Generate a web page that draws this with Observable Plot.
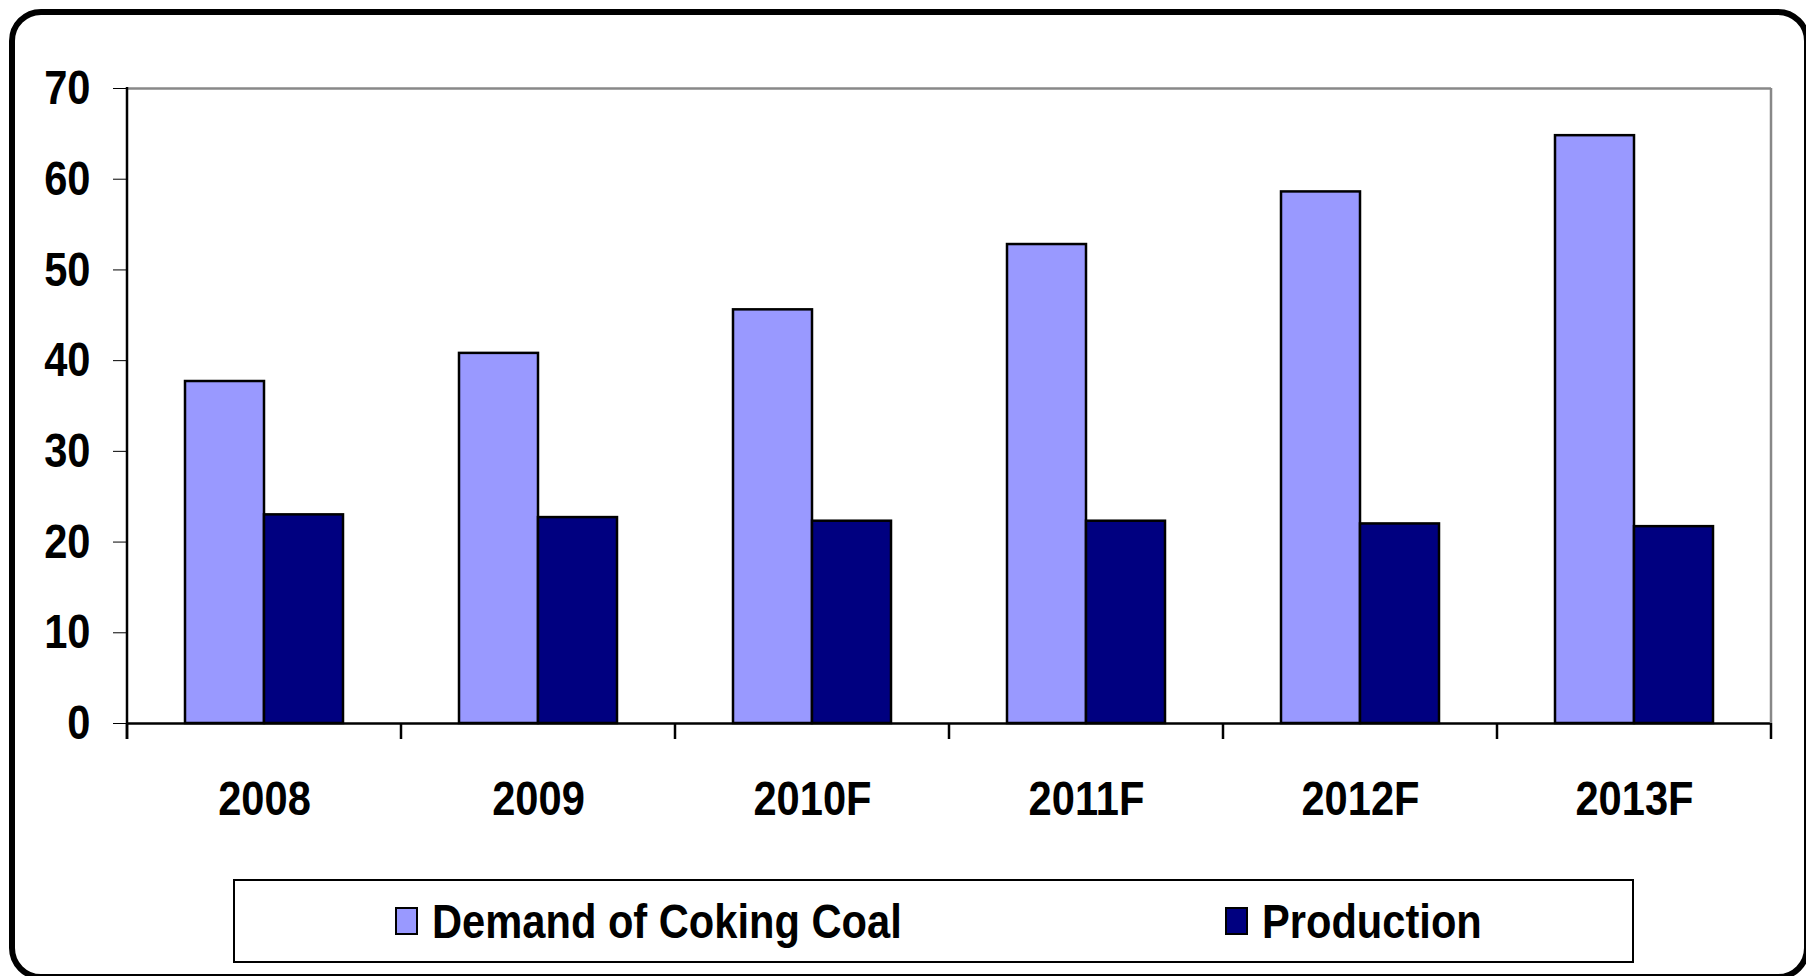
<!DOCTYPE html>
<html>
<head>
<meta charset="utf-8">
<script src="https://cdn.jsdelivr.net/npm/d3@7"></script>
<script src="https://cdn.jsdelivr.net/npm/@observablehq/plot@0.6"></script>
<style>
  html, body { margin: 0; padding: 0; background: #fff; }
  #wrap { position: relative; width: 1806px; height: 976px; overflow: hidden; background: #fff;
          font-family: "Liberation Sans", Arial, sans-serif; font-weight: bold; }
  #border { position: absolute; left: 9px; top: 9px; width: 1801px; height: 971px; box-sizing: border-box;
            border: 6px solid #000; border-radius: 32px; pointer-events: none; }
  #chart { position: absolute; left: 0; top: 0; }
  #legend { position: absolute; left: 233px; top: 879px; width: 1401px; height: 84px; box-sizing: border-box;
            border: 2.5px solid #000; background: #fff; }
  .item { position: absolute; top: 0; height: 100%; display: flex; align-items: center; font-size: 49px; color: #000; white-space: nowrap; }
  .sw { width: 23px; height: 28px; box-sizing: border-box; border: 2.5px solid #000; margin-right: 14px; flex: none; }
  .tx { display: inline-block; transform: scaleX(0.85); transform-origin: left center; }
</style>
</head>
<body>
<div id="wrap">
  <div id="chart"></div>
  <div id="legend"></div>
  <div id="border"></div>
</div>
<script>
const years = ["2008", "2009", "2010F", "2011F", "2012F", "2013F"];
const seriesNames = ["Demand of Coking Coal", "Production"];
const demand = [37.7, 40.8, 45.6, 52.8, 58.6, 64.8];
const production = [23.0, 22.7, 22.3, 22.3, 22.0, 21.7];
const colors = ["#9999FF", "#000080"];
const yTicks = [0, 10, 20, 30, 40, 50, 60, 70];

const data = [];
years.forEach((yr, i) => {
  data.push({year: yr, series: seriesNames[0], value: demand[i]});
  data.push({year: yr, series: seriesNames[1], value: production[i]});
});

const W = 1806, H = 830, ML = 127, MR = 35, MT = 88, MB = 107;
const SQUEEZE = 0.85;

const plot = Plot.plot({
  width: W,
  height: H,
  marginLeft: ML,
  marginRight: MR,
  marginTop: MT,
  marginBottom: MB,
  style: {
    fontFamily: '"Liberation Sans", Arial, sans-serif',
    fontSize: "49px",
    fontWeight: "bold",
    color: "#000",
    background: "transparent"
  },
  fx: {domain: years, paddingInner: 0, paddingOuter: 0, axis: "bottom", label: null, tickSize: 0, tickPadding: 57},
  x: {domain: seriesNames, paddingInner: 0, paddingOuter: 0.734, axis: null},
  y: {domain: [0, 70], ticks: yTicks, tickSize: 14, tickPadding: 23, label: null, grid: false},
  color: {domain: seriesNames, range: colors},
  marks: [
    Plot.ruleY([70], {stroke: "#888", strokeWidth: 2.5}),
    Plot.barY(data, {fx: "year", x: "series", y: "value", fill: "series", stroke: "#000", strokeWidth: 2.5}),
    Plot.ruleY([0], {stroke: "#000", strokeWidth: 2.5})
  ]
});

document.getElementById("chart").appendChild(plot);

const svg = d3.select(plot);

// narrow the bold type horizontally around each label's anchor point:
// wrap each text in a group that carries its original transform
svg.selectAll("text").each(function() {
  const node = this;
  const num = (v) => { const n = parseFloat(v); return isFinite(n) ? n : 0; };
  const x = num(node.getAttribute("x")), y = num(node.getAttribute("y"));
  const t = node.getAttribute("transform");
  const wrapper = document.createElementNS("http://www.w3.org/2000/svg", "g");
  if (t) wrapper.setAttribute("transform", t);
  node.parentNode.insertBefore(wrapper, node);
  wrapper.appendChild(node);
  node.setAttribute("transform", `translate(${x},${y}) scale(${SQUEEZE},1) translate(${-x},${-y})`);
});

// axis lines and category boundary ticks, positioned through Plot's own scales
const fx = plot.scale("fx");
const ys = plot.scale("y");
const y0 = ys.apply(0), yTop = ys.apply(70);
const bw = fx.bandwidth;
const bounds = years.map(d => fx.apply(d));
bounds.push(fx.apply(years[years.length - 1]) + bw);
const g = svg.append("g");
g.append("line").attr("x1", bounds[bounds.length - 1]).attr("x2", bounds[bounds.length - 1])
  .attr("y1", yTop).attr("y2", y0).attr("stroke", "#888").attr("stroke-width", 2.5);
g.append("line").attr("x1", bounds[0]).attr("x2", bounds[0])
  .attr("y1", yTop - 1).attr("y2", y0 + 16).attr("stroke", "#000").attr("stroke-width", 2.5);
g.selectAll("line.bt").data(bounds).join("line").attr("class", "bt")
  .attr("x1", d => d).attr("x2", d => d)
  .attr("y1", y0).attr("y2", y0 + 16).attr("stroke", "#000").attr("stroke-width", 2.5);

// legend
const legend = document.getElementById("legend");
const itemLeft = [393 - 233, 1223 - 233];
seriesNames.forEach((name, i) => {
  const it = document.createElement("div");
  it.className = "item";
  it.style.left = itemLeft[i] + "px";
  const sw = document.createElement("div");
  sw.className = "sw";
  sw.style.background = colors[i];
  const tx = document.createElement("span");
  tx.className = "tx";
  tx.textContent = name;
  it.appendChild(sw);
  it.appendChild(tx);
  legend.appendChild(it);
});
</script>
</body>
</html>
